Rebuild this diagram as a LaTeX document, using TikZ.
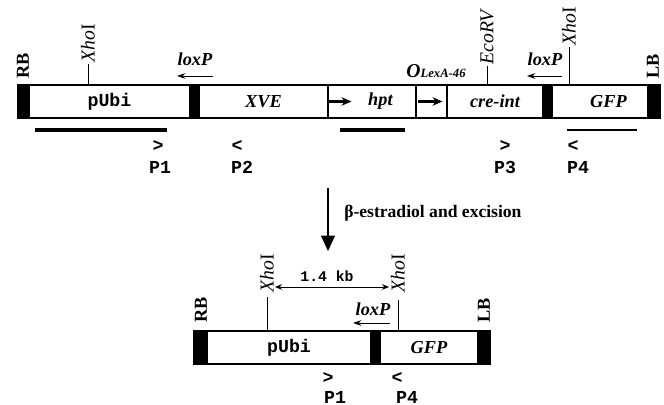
\documentclass[tikz,border=0pt]{standalone}
\usepackage{fontspec}
\setmainfont{Liberation Serif}
\setmonofont{Liberation Mono}
\usetikzlibrary{arrows.meta}
\newcommand{\pxl}{0.025cm}

\begin{document}
\begin{tikzpicture}[
  x=0.025cm, y=-0.025cm,
  seg/.style={rectangle, draw, line width=0.8pt, inner sep=0pt, minimum height=33*\pxl, minimum width=#1*\pxl},
  blk/.style={seg=#1, fill=black},
  gene/.style={font=\fontsize{13}{15}\selectfont\bfseries\itshape},
  mono/.style={font=\ttfamily\bfseries\fontsize{13}{15}\selectfont},
  site/.style={rotate=90, anchor=west, inner sep=1pt, font=\fontsize{14}{16}\selectfont},
  border/.style={rotate=90, anchor=west, inner sep=1pt, font=\fontsize{13}{15}\selectfont\bfseries},
  primer/.style={inner sep=0pt, font=\ttfamily\bfseries\fontsize{13}{15}\selectfont},
  lox/.style={-{Stealth[length=6pt,width=4pt]}, line width=0.6pt},
  orf/.style={-{Stealth[length=7pt,width=6pt]}, line width=1.6pt},
  probe/.style={line width=2.8pt},
  flow/.style={-{Triangle[length=11pt,width=10pt]}, line width=0.8pt}
]
\useasboundingbox (0,0) rectangle (664,405);

% before excision
\node[blk=11] (rb1) at (23.5,101.5) {};
\node[seg=161, mono] (pubi1) at (109.5,101.5) {pUbi};
\node[blk=9] (blk1) at (194.5,101.5) {};
\node[seg=129, gene] (xve) at (263.5,101.5) {XVE};
\node[seg=88, gene] (hpt) at (372,101.5) {\hspace{12pt}hpt};
\node[seg=31] (ola) at (431.5,101.5) {};
\node[seg=96, gene] (cre) at (495,101.5) {cre-int\hspace{8pt}};
\node[blk=9] (blk2) at (547.5,101.5) {};
\node[seg=96, gene] (gfp1) at (600,101.5) {\hspace{12pt}GFP};
\node[blk=12] (lb1) at (654,101.5) {};

\node[border] (rbt1) at (23,80) {RB};
\node[border] (lbt1) at (653,80) {LB};
\node[site] (xho1) at (88,64) {\textit{Xho}I};
\node[site] (eco) at (487,66) {\textit{EcoRV}};
\node[site] (xho2) at (569,47) {\textit{Xho}I};
\draw[line width=0.6pt] (xho1.west) -- (xho1.west |- pubi1.north);
\draw[line width=0.6pt] (eco.west) -- (eco.west |- cre.north);
\draw[line width=0.6pt] (xho2.west) -- (xho2.west |- gfp1.north);

\node[gene] (loxt1) at (195,59) {loxP};
\node[gene] (loxt2) at (545,59) {loxP};
\node[font=\bfseries\itshape] (lexa) at (436,71) {{\fontsize{14}{16}\selectfont O}{\fontsize{9}{10}\selectfont LexA-46}};
\draw[lox] (213,76) -- (177,76);
\draw[lox] (562,76) -- (527,76);
\draw[orf] ([xshift=2*\pxl]hpt.west) -- ++(22,0);
\draw[orf] ([xshift=3*\pxl]ola.west) -- ++(24,0);

\draw[probe] (35,130) -- (167,130);
\draw[probe] (340,130) -- (405,130);
\draw[line width=1.5pt] (567,130) -- (637,130);

\node[primer] (p1a) at (158,146) {>};
\node[primer] (p1) at (160,167) {P1};
\node[primer] (p2a) at (237,146) {<};
\node[primer] (p2) at (242,167) {P2};
\node[primer] (p3a) at (505,146) {>};
\node[primer] (p3) at (505,167) {P3};
\node[primer] (p4a) at (573,146) {<};
\node[primer] (p4) at (578,167) {P4};

% induction
\coordinate (downa) at (328,188);
\coordinate (downb) at (328,251);
\draw[flow] (downa) -- (downb);
\node[anchor=west, inner sep=0pt, font=\fontsize{12.5}{14}\selectfont\bfseries] (treat) at (344,213) {β-estradiol and excision};

% after excision
\begin{scope}[every node/.append style={minimum height=31*\pxl}]
\node[blk=13] (rb2) at (200.5,347.5) {};
\node[seg=164, mono] (pubi2) at (289,347.5) {pUbi};
\node[blk=9] (blk3) at (375.5,347.5) {};
\node[seg=98, gene] (gfp2) at (429,347.5) {GFP};
\node[blk=12] (lb2) at (484,347.5) {};
\end{scope}

\node[border] (rbt2) at (201,324) {RB};
\node[border] (lbt2) at (484,324) {LB};
\node[site] (xho3) at (267,294) {\textit{Xho}I};
\node[site] (xho4) at (398,294) {\textit{Xho}I};
\draw[line width=0.6pt] ([yshift=-3*\pxl]xho3.west) -- (xho3.west |- pubi2.north);
\draw[line width=0.6pt] ([yshift=-6*\pxl]xho4.west) -- (xho4.west |- gfp2.north);

\node[font=\ttfamily\bfseries\fontsize{10.5}{12}\selectfont] (kb) at (327,276) {1.4 kb};
\coordinate (kbl) at (275,287);
\coordinate (kbr) at (389,287);
\draw[{Stealth[length=5pt,width=4pt]}-{Stealth[length=5pt,width=4pt]}, line width=0.6pt] (kbl) -- (kbr);

\node[gene] (loxt3) at (373,309) {loxP};
\draw[lox] (390,323) -- (353,323);

\node[primer] (p5a) at (328,378) {>};
\node[primer] (p5) at (335,397) {P1};
\node[primer] (p6a) at (397,378) {<};
\node[primer] (p6) at (407,397) {P4};
\end{tikzpicture}
\end{document}
